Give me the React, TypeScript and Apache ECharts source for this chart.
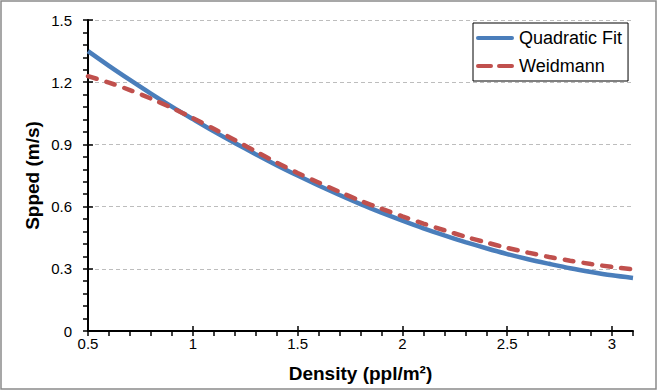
import React, { useEffect, useRef } from "react";
import * as echarts from "echarts";

const density = [0.5, 0.6, 0.7, 0.8, 0.9, 1.0, 1.1, 1.2, 1.3, 1.4, 1.5, 1.6, 1.7, 1.8, 1.9, 2.0, 2.1, 2.2, 2.3, 2.4, 2.5, 2.6, 2.7, 2.8, 2.9, 3.0, 3.1];
const quadraticFit = [1.350, 1.279, 1.211, 1.145, 1.082, 1.022, 0.963, 0.907, 0.853, 0.800, 0.750, 0.702, 0.656, 0.612, 0.571, 0.532, 0.495, 0.461, 0.429, 0.399, 0.371, 0.346, 0.324, 0.303, 0.285, 0.269, 0.256];
const weidmann = [1.229, 1.198, 1.162, 1.121, 1.076, 1.027, 0.975, 0.921, 0.866, 0.812, 0.762, 0.716, 0.671, 0.628, 0.590, 0.553, 0.518, 0.486, 0.455, 0.427, 0.401, 0.378, 0.357, 0.339, 0.323, 0.309, 0.297];
const xTickLabels = [0.5, 1, 1.5, 2, 2.5, 3];
const yTickLabels = [0, 0.3, 0.6, 0.9, 1.2, 1.5];

const FONT = "Liberation Sans, Arial, sans-serif";
const SOLID_ICON = "path://M2,0 L36,0 A2,2 0 0 1 36,4 L2,4 A2,2 0 0 1 2,0 Z";
const DASH_ICON =
  "path://M2,0 L15,0 A2,2 0 0 1 15,4 L2,4 A2,2 0 0 1 2,0 Z M23,0 L36,0 A2,2 0 0 1 36,4 L23,4 A2,2 0 0 1 23,0 Z";

export default function App() {
  const ref = useRef<HTMLDivElement>(null);
  useEffect(() => {
    document.body.style.margin = "0";
    if (!ref.current) return;
    const chart = echarts.init(ref.current, null, { renderer: "svg" });
    const black = "#000";
    const common = { min: 0.5, max: 3.1, type: "value" as const, gridIndex: 0, position: "bottom" as const };
    chart.setOption({
      animation: false,
      backgroundColor: "#fff",
      textStyle: { fontFamily: FONT },
      graphic: [
        {
          type: "rect",
          shape: { x: 1, y: 1, width: 655, height: 388 },
          style: { fill: "none", stroke: "#8a8a8a", lineWidth: 1.5 },
          silent: true,
        },
      ],
      grid: { left: 88, right: 25, top: 20, bottom: 61 },
      legend: {
        left: 473,
        top: 23,
        orient: "vertical",
        backgroundColor: "#fff",
        borderColor: "#000",
        borderWidth: 1,
        padding: [5, 6, 5, 3],
        itemGap: 8,
        itemWidth: 38,
        itemHeight: 4.5,
        textStyle: { fontSize: 18, color: "#000", fontFamily: FONT, lineHeight: 20 },
        data: [
          { name: "Quadratic Fit", icon: SOLID_ICON, itemStyle: { color: "#4a7ebb" } },
          { name: "Weidmann", icon: DASH_ICON, itemStyle: { color: "#c0504d" } },
        ],
      },
      xAxis: [
        {
          ...common,
          interval: 0.1,
          axisLine: { show: true, lineStyle: { color: black, width: 2 } },
          axisTick: { show: true, inside: false, length: 5, lineStyle: { color: black, width: 1.5 } },
          axisLabel: { show: false },
          splitLine: { show: false },
          name: "Density (ppl/m²)",
          nameLocation: "middle",
          nameGap: 33,
          nameTextStyle: { fontSize: 19, fontWeight: "bold", color: "#000", fontFamily: FONT },
        },
        {
          ...common,
          interval: 0.5,
          axisLine: { show: false },
          axisTick: { show: true, inside: true, length: 5, customValues: xTickLabels, lineStyle: { color: black, width: 1.5 } },
          axisLabel: {
            show: true,
            customValues: xTickLabels,
            margin: 5,
            fontSize: 15,
            color: "#000",
            fontFamily: FONT,
            formatter: (v: number) => String(v),
          },
          splitLine: { show: false },
        },
      ],
      yAxis: [
        {
          type: "value",
          min: 0,
          max: 1.5,
          interval: 0.06,
          position: "left",
          axisLine: { show: true, lineStyle: { color: black, width: 2 } },
          axisTick: { show: true, inside: false, length: 5, lineStyle: { color: black, width: 1.5 } },
          axisLabel: { show: false },
          splitLine: { show: false },
          name: "Spped (m/s)",
          nameLocation: "middle",
          nameGap: 46,
          nameRotate: 90,
          nameTextStyle: { fontSize: 19, fontWeight: "bold", color: "#000", fontFamily: FONT },
        },
        {
          type: "value",
          min: 0,
          max: 1.5,
          interval: 0.3,
          position: "left",
          axisLine: { show: false },
          axisTick: { show: true, inside: true, length: 5, lineStyle: { color: black, width: 1.5 } },
          axisLabel: {
            show: true,
            margin: 16,
            fontSize: 15,
            color: "#000",
            fontFamily: FONT,
            formatter: (v: number) => String(yTickLabels.find((t) => Math.abs(t - v) < 1e-6) ?? v),
          },
          splitLine: { show: true, lineStyle: { color: "#bdbdbd", type: [4, 3], width: 1 } },
        },
      ],
      series: [
        {
          name: "Quadratic Fit",
          type: "line",
          xAxisIndex: 0,
          yAxisIndex: 0,
          data: density.map((d, i) => [d, quadraticFit[i]]),
          showSymbol: false,
          symbol: "none",
          smooth: 0.3,
          color: "#4a7ebb",
          lineStyle: { color: "#4a7ebb", width: 4.5 },
          z: 3,
        },
        {
          name: "Weidmann",
          type: "line",
          xAxisIndex: 0,
          yAxisIndex: 0,
          data: density.map((d, i) => [d, weidmann[i]]),
          showSymbol: false,
          symbol: "none",
          smooth: 0.3,
          color: "#c0504d",
          lineStyle: { color: "#c0504d", width: 4.5, type: [9, 10], cap: "round" },
          z: 4,
        },
      ],
    });
    return () => chart.dispose();
  }, []);
  return <div ref={ref} style={{ width: 658, height: 392 }} />;
}
